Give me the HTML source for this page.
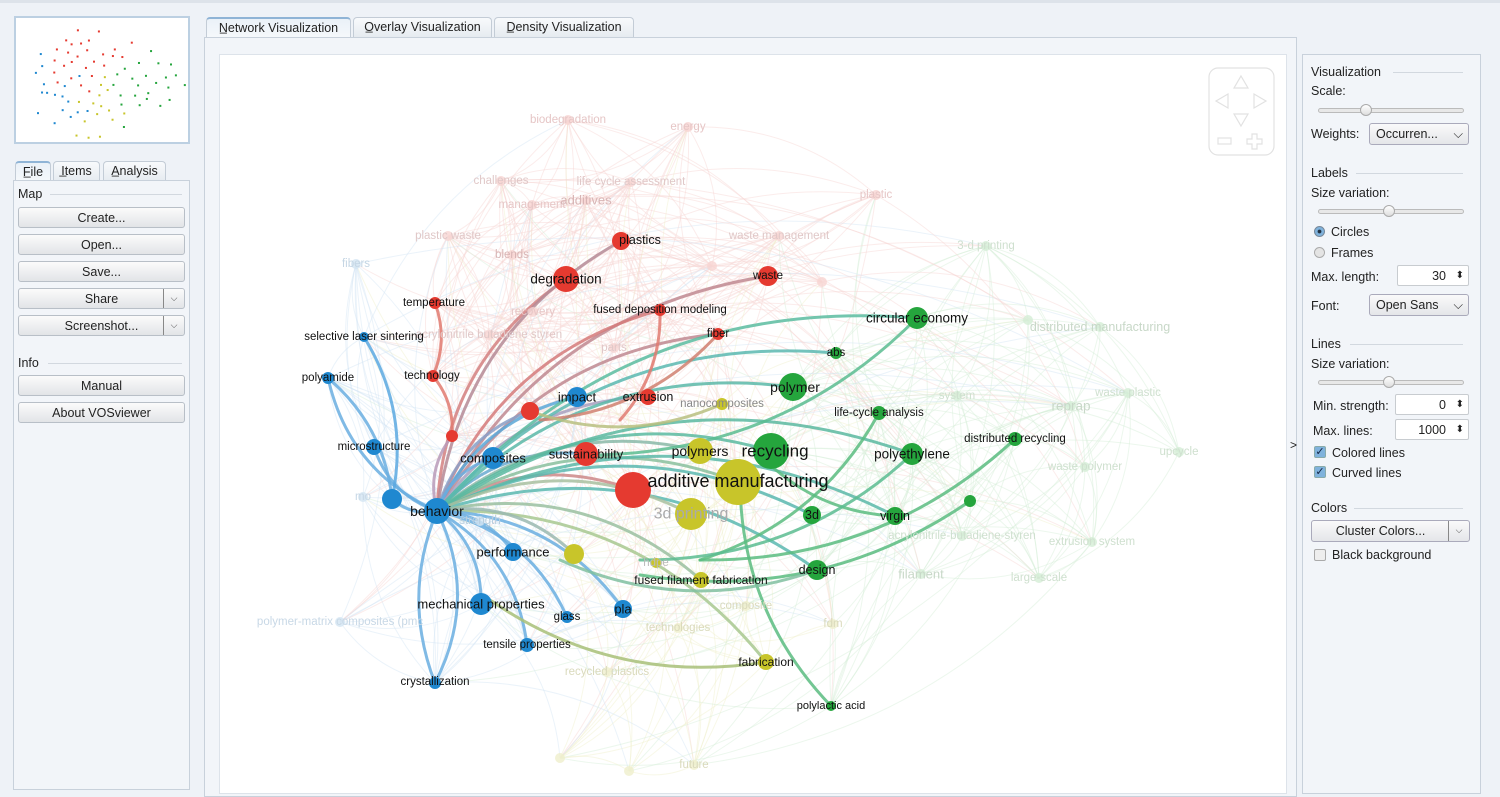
<!DOCTYPE html>
<html><head><meta charset="utf-8">
<style>
*{box-sizing:border-box;margin:0;padding:0}
body{width:1500px;height:786px;overflow:hidden;background:#eef2f7;font-family:"Liberation Sans",sans-serif;font-size:12px;color:#222;position:relative}
.abs{position:absolute}
.topline{left:0;top:0;width:1500px;height:3px;background:#dde3ea}
.mini{left:14px;top:16px;width:176px;height:128px;background:#fff;border:2px solid #bcd0e2}
.tab{position:absolute;height:20px;border:1px solid #c3ccd6;border-bottom:none;border-radius:4px 4px 0 0;background:linear-gradient(#f8fafc,#e6ebf0);text-align:center;line-height:19px;font-size:12.5px}
.tab.sel{background:linear-gradient(#eaf1f8,#f5f8fb);border-top:2px solid #8fb4d6}
.panel{border:1px solid #c8d1db;background:#f2f5f9}
.btn{position:absolute;left:18px;width:167px;height:21px;border:1px solid #b8bfc7;border-radius:3px;background:linear-gradient(#fbfbfb,#e2e4e7);text-align:center;line-height:20px;font-size:12.5px}
.dd{position:absolute;right:0;top:0;width:21px;height:19px;border-left:1px solid #888;font-size:9px;line-height:19px;text-align:center;color:#444}
.lbl{position:absolute;font-size:12.5px}
.sep{position:absolute;height:1px;background:#d2d8df}
.slider{position:absolute;left:1318px;width:146px;height:5px;border:1px solid #bbb;border-radius:3px;background:#e8e8e8}
.knob{position:absolute;top:-5px;width:12px;height:12px;border-radius:50%;border:1px solid #aaa;background:linear-gradient(#fff,#ddd)}
.field{position:absolute;height:21px;border:1px solid #c8ccd0;background:#fff;text-align:right;padding-right:22px;line-height:20px;font-size:12.5px;border-radius:2px}
.sel2{position:absolute;height:22px;border:1px solid #aab;border-radius:3px;background:linear-gradient(#fafafa,#e4e6e9);line-height:21px;padding-left:6px;font-size:12.5px}
.chk{position:absolute;width:12px;height:12px;border:1px solid #8aa;border-radius:2px;background:#7fb2dc;color:#124;font-size:11px;line-height:10px;text-align:center}
</style></head><body>
<div class="abs topline"></div>
<div class="abs mini"><svg width="172" height="124" id="minisvg"></svg></div>

<div class="tab sel" style="left:15px;top:161px;width:36px">F̲ile</div>
<div class="tab" style="left:53px;top:161px;width:47px">I̲tems</div>
<div class="tab" style="left:103px;top:161px;width:63px">A̲nalysis</div>
<div class="abs panel" style="left:13px;top:180px;width:177px;height:610px"></div>
<div class="lbl" style="left:18px;top:187px">Map</div><div class="sep" style="left:50px;top:194px;width:132px"></div>
<div class="btn" style="top:207px">Create...</div>
<div class="btn" style="top:234px">Open...</div>
<div class="btn" style="top:261px">Save...</div>
<div class="btn" style="top:288px">Share<div class="dd">⌵</div></div>
<div class="btn" style="top:315px">Screenshot...<div class="dd">⌵</div></div>
<div class="lbl" style="left:18px;top:356px">Info</div><div class="sep" style="left:48px;top:363px;width:134px"></div>
<div class="btn" style="top:375px">Manual</div>
<div class="btn" style="top:402px">About VOSviewer</div>

<div class="tab sel" style="left:206px;top:17px;width:145px">N̲etwork Visualization</div>
<div class="tab" style="left:353px;top:17px;width:139px">O̲verlay Visualization</div>
<div class="tab" style="left:494px;top:17px;width:140px">D̲ensity Visualization</div>
<div class="abs panel" style="left:204px;top:37px;width:1093px;height:760px"></div>
<div class="abs" style="left:219px;top:54px;width:1068px;height:740px;background:#fff;border:1px solid #dde3ea"></div>

<svg class="abs" style="left:0;top:0" width="1500" height="786">
<g id="faint"></g>
<g id="strong" fill="none" stroke-linecap="round"></g>
<g id="nodes"></g>
<g font-family="Liberation Sans, sans-serif" text-anchor="middle" dominant-baseline="central" fill="#ccc" font-size="11.5">
<text x="568" y="120" fill="#e6c6c6">biodegradation</text>
<text x="688" y="127" fill="#e6c6c6">energy</text>
<text x="501" y="181" fill="#e0c8c8">challenges</text>
<text x="631" y="182" fill="#e0c8c8">life cycle assessment</text>
<text x="532" y="205" fill="#e6c6c6">management</text>
<text x="586" y="200" fill="#d8b5b5" font-size="13">additives</text>
<text x="876" y="195" fill="#e6c6c6">plastic</text>
<text x="448" y="236" fill="#e0c8c8">plastic waste</text>
<text x="512" y="255" fill="#d8b5b5">blends</text>
<text x="779" y="236" fill="#e0c8c8">waste management</text>
<text x="356" y="264" fill="#c5d6e4">fibers</text>
<text x="533" y="312" fill="#e6c6c6">recovery</text>
<text x="489" y="335" fill="#e0c8c8">acrylonitrile butadiene styren</text>
<text x="614" y="348" fill="#e0c8c8">parts</text>
<text x="986" y="246" fill="#cfe0cf">3-d printing</text>
<text x="1100" y="327" fill="#c8d8c8" font-size="12.5">distributed manufacturing</text>
<text x="957" y="396" fill="#cfe0cf">system</text>
<text x="1071" y="406" fill="#c8d8c8" font-size="13.5">reprap</text>
<text x="1128" y="393" fill="#cfe0cf">waste plastic</text>
<text x="1085" y="467" fill="#cfe0cf">waste polymer</text>
<text x="1179" y="452" fill="#cfe0cf">upcycle</text>
<text x="962" y="536" fill="#cfe0cf">acrylonitrile-butadiene-styren</text>
<text x="1092" y="542" fill="#cfe0cf">extrusion system</text>
<text x="921" y="574" fill="#c8d8c8" font-size="13">filament</text>
<text x="1039" y="578" fill="#cfe0cf">large-scale</text>
<text x="746" y="606" fill="#dadabc">composite</text>
<text x="833" y="624" fill="#dadabc">fdm</text>
<text x="678" y="628" fill="#dadabc">technologies</text>
<text x="340" y="622" fill="#c8d8e6">polymer-matrix composites (pmc</text>
<text x="607" y="672" fill="#dadabc">recycled plastics</text>
<text x="694" y="765" fill="#dadabc">future</text>
<text x="480" y="521" fill="#b8cede">strength</text>
<text x="363" y="497" fill="#c8d8e6">mo</text>
<text x="656" y="563" fill="#bbb">hdpe</text>
<text x="722" y="404" fill="#888">nanocomposites</text>
<text x="691" y="514" fill="#aaa" font-size="16">3d printing</text>
</g>
<g font-family="Liberation Sans, sans-serif" text-anchor="middle" dominant-baseline="central" fill="#111" font-size="11.5">
<text x="566" y="279" font-size="13.5">degradation</text>
<text x="640" y="240" font-size="12.5">plastics</text>
<text x="768" y="276">waste</text>
<text x="434" y="303">temperature</text>
<text x="660" y="310">fused deposition modeling</text>
<text x="718" y="334">fiber</text>
<text x="432" y="376">technology</text>
<text x="648" y="397" font-size="12.5">extrusion</text>
<text x="586" y="454" font-size="13">sustainability</text>
<text x="738" y="481" font-size="18">additive manufacturing</text>
<text x="775" y="451" font-size="17">recycling</text>
<text x="700" y="451" font-size="14">polymers</text>
<text x="795" y="387" font-size="14">polymer</text>
<text x="917" y="318" font-size="13.5">circular economy</text>
<text x="836" y="353">abs</text>
<text x="879" y="413">life-cycle analysis</text>
<text x="912" y="454" font-size="13.5">polyethylene</text>
<text x="1015" y="439">distributed recycling</text>
<text x="812" y="515" font-size="12.5">3d</text>
<text x="895" y="516" font-size="12.5">virgin</text>
<text x="817" y="570" font-size="12.5">design</text>
<text x="831" y="706" font-size="11">polylactic acid</text>
<text x="766" y="662" font-size="12">fabrication</text>
<text x="701" y="580" font-size="12">fused filament fabrication</text>
<text x="577" y="397" font-size="13">impact</text>
<text x="493" y="458" font-size="13">composites</text>
<text x="437" y="511" font-size="14">behavior</text>
<text x="374" y="447">microstructure</text>
<text x="328" y="378">polyamide</text>
<text x="364" y="337">selective laser sintering</text>
<text x="513" y="552" font-size="13">performance</text>
<text x="481" y="604" font-size="13">mechanical properties</text>
<text x="567" y="617">glass</text>
<text x="623" y="609" font-size="13">pla</text>
<text x="527" y="645">tensile properties</text>
<text x="435" y="682">crystallization</text>
</g>
<g stroke="#e2e2e2" fill="none" stroke-width="1.2">
<rect x="1209" y="68" width="65" height="87" rx="9"/>
<path d="M1241 76l7 12h-14z M1216 101l12-7v14z M1266 101l-12-7v14z M1241 126l7-12h-14z"/>
<rect x="1218" y="138" width="13" height="6"/>
<path d="M1252 134h5v5h5v5h-5v5h-5v-5h-5v-5h5z"/>
</g>
</svg>

<div class="abs" style="left:1290px;top:438px;font-size:12px">&gt;</div>
<div class="abs panel" style="left:1302px;top:54px;width:179px;height:740px"></div>
<div class="lbl" style="left:1311px;top:65px">Visualization</div><div class="sep" style="left:1393px;top:72px;width:70px"></div>
<div class="lbl" style="left:1311px;top:84px">Scale:</div>
<div class="slider" style="top:108px"><div class="knob" style="left:41px"></div></div>
<div class="lbl" style="left:1311px;top:127px">Weights:</div>
<div class="sel2" style="left:1369px;top:123px;width:100px">Occurren...<span style="position:absolute;right:5px">⌵</span></div>
<div class="lbl" style="left:1311px;top:166px">Labels</div><div class="sep" style="left:1356px;top:173px;width:107px"></div>
<div class="lbl" style="left:1311px;top:186px">Size variation:</div>
<div class="slider" style="top:209px"><div class="knob" style="left:64px"></div></div>
<div class="abs" style="left:1314px;top:226px;width:11px;height:11px;border-radius:50%;border:1px solid #789;background:radial-gradient(#234 25%,#7fb2dc 35%)"></div>
<div class="lbl" style="left:1331px;top:225px">Circles</div>
<div class="abs" style="left:1314px;top:247px;width:11px;height:11px;border-radius:50%;border:1px solid #aaa;background:#e4e4e4"></div>
<div class="lbl" style="left:1331px;top:246px">Frames</div>
<div class="lbl" style="left:1311px;top:270px">Max. length:</div>
<div class="field" style="left:1397px;top:265px;width:72px">30<span style="position:absolute;right:4px;font-size:10px">⬍</span></div>
<div class="lbl" style="left:1311px;top:299px">Font:</div>
<div class="sel2" style="left:1369px;top:294px;width:100px">Open Sans<span style="position:absolute;right:5px">⌵</span></div>
<div class="lbl" style="left:1311px;top:337px">Lines</div><div class="sep" style="left:1350px;top:344px;width:113px"></div>
<div class="lbl" style="left:1311px;top:357px">Size variation:</div>
<div class="slider" style="top:380px"><div class="knob" style="left:64px"></div></div>
<div class="lbl" style="left:1313px;top:399px">Min. strength:</div>
<div class="field" style="left:1395px;top:394px;width:74px">0<span style="position:absolute;right:4px;font-size:10px">⬍</span></div>
<div class="lbl" style="left:1313px;top:424px">Max. lines:</div>
<div class="field" style="left:1395px;top:419px;width:74px">1000<span style="position:absolute;right:4px;font-size:10px">⬍</span></div>
<div class="chk" style="left:1314px;top:446px">✓</div><div class="lbl" style="left:1332px;top:446px">Colored lines</div>
<div class="chk" style="left:1314px;top:466px">✓</div><div class="lbl" style="left:1332px;top:466px">Curved lines</div>
<div class="lbl" style="left:1311px;top:501px">Colors</div><div class="sep" style="left:1354px;top:508px;width:109px"></div>
<div class="sel2" style="left:1311px;top:520px;width:159px;text-align:center;padding:0 20px 0 0">Cluster Colors...<div class="dd" style="height:20px">⌵</div></div>
<div class="abs" style="left:1314px;top:549px;width:12px;height:12px;border:1px solid #aaa;border-radius:2px;background:#eee"></div>
<div class="lbl" style="left:1332px;top:548px">Black background</div>

<script>
var NS="http://www.w3.org/2000/svg";
var C={r:"#e53a30",b:"#1f88d0",g:"#25a53d",y:"#c8c52a"};
var F={r:"#f7d4d2",b:"#d3e5f3",g:"#d5eed6",y:"#efefcc"};
var nodes=[
[566,279,13,"r"],[621,241,9,"r"],[768,276,10,"r"],[435,303,6,"r"],[660,310,6,"r"],[718,334,6,"r"],[433,376,6,"r"],[648,397,8,"r"],[530,411,9,"r"],[452,436,6,"r"],[586,454,12,"r"],[633,490,18,"r"],
[738,482,23,"y"],[700,451,13,"y"],[691,514,16,"y"],[766,662,8,"y"],[701,580,8,"y"],[656,563,5,"y"],[722,404,6,"y"],[574,554,10,"y"],
[771,451,18,"g"],[793,387,14,"g"],[917,318,11,"g"],[836,353,6,"g"],[879,413,7,"g"],[912,454,11,"g"],[1015,439,7,"g"],[970,501,6,"g"],[812,515,9,"g"],[895,516,9,"g"],[817,570,10,"g"],[831,706,5,"g"],
[577,397,10,"b"],[493,458,11,"b"],[437,511,13,"b"],[392,499,10,"b"],[374,447,8,"b"],[328,378,6,"b"],[364,337,5,"b"],[513,552,9,"b"],[481,604,11,"b"],[567,617,6,"b"],[623,609,9,"b"],[527,645,7,"b"],[435,683,6,"b"]];
var faint=[
[568,120,"r"],[688,127,"r"],[501,181,"r"],[631,182,"r"],[532,205,"r"],[586,200,"r"],[876,195,"r"],[448,236,"r"],[512,255,"r"],[779,236,"r"],[533,312,"r"],[489,335,"r"],[614,348,"r"],[712,266,"r"],[822,282,"r"],
[356,264,"b"],[340,622,"b"],[480,521,"b"],[363,497,"b"],
[986,246,"g"],[1028,320,"g"],[1100,327,"g"],[957,396,"g"],[1071,406,"g"],[1128,393,"g"],[1085,467,"g"],[1179,452,"g"],[962,536,"g"],[1092,542,"g"],[921,574,"g"],[1039,578,"g"],
[746,606,"y"],[833,624,"y"],[678,628,"y"],[607,672,"y"],[694,765,"y"],[560,758,"y"],[629,771,"y"]];
function el(t,a,p){var e=document.createElementNS(NS,t);for(var k in a)e.setAttribute(k,a[k]);p.appendChild(e);return e;}
var fg=document.getElementById("faint"),sg=document.getElementById("strong"),ng=document.getElementById("nodes");
var all=nodes.map(function(n){return [n[0],n[1],n[3]]}).concat(faint);
var seed=7;function rnd(){seed=(seed*16807)%2147483647;return seed/2147483647;}
for(var i=0;i<all.length;i++)for(var j=i+1;j<all.length;j++){
 var a=all[i],b=all[j],d=Math.hypot(a[0]-b[0],a[1]-b[1]);
 var p=a[2]==b[2]?0.5:0.1; if(d>420)p*=0.4;
 if(rnd()<p){var mx=(a[0]+b[0])/2+(b[1]-a[1])*0.2,my=(a[1]+b[1])/2-(b[0]-a[0])*0.2;
 el("path",{d:"M"+a[0]+" "+a[1]+"Q"+mx+" "+my+" "+b[0]+" "+b[1],stroke:F[a[2]],"stroke-width":1,fill:"none",opacity:0.45},fg);}
}
faint.forEach(function(f){el("circle",{cx:f[0],cy:f[1],r:5,fill:F[f[2]],opacity:0.8},ng);});
var B=[437,511];
var tg=[[566,279,"#d38080"],[621,241,"#b58a95"],[768,276,"#c08890"],[718,334,"#c08890"],[660,310,"#d57a7a"],[530,411,"#8aa0c8"],[577,397,"#5aa8d8"],[648,397,"#a8a0c0"],[586,454,"#6aaad0"],[633,490,"#cc8888"],[738,482,"#8abf9e"],[700,451,"#8ab8a8"],[771,451,"#5abaa0"],[793,387,"#5ab8a8"],[917,318,"#5abca0"],[836,353,"#5ab8b0"],[912,454,"#5ab8a0"],[812,515,"#5ab8b0"],[895,516,"#5ab8a8"],[817,570,"#5ab8b0"],[701,580,"#9ac0a0"],[766,662,"#a8c890"],[574,554,"#9ab8b0"],[691,514,"#a8c0a0"],
[493,458,"#6aaee0"],[374,447,"#6aaee0"],[392,499,"#6aaee0"],[513,552,"#6aaee0"],[481,604,"#6aaee0"],[567,617,"#6aaee0"],[623,609,"#6aaee0"],[527,645,"#6aaee0"],[435,683,"#6aaee0"],[328,378,"#6aaee0"],[452,436,"#b89ab8"]];
tg.forEach(function(t){var dx=t[0]-B[0],dy=t[1]-B[1];var mx=B[0]+dx/2+dy*0.25,my=B[1]+dy/2-dx*0.25;
 el("path",{d:"M"+B[0]+" "+B[1]+"Q"+mx+" "+my+" "+t[0]+" "+t[1],stroke:t[2],"stroke-width":3,opacity:0.85},sg);});
var ex=[[435,303,433,376,"#e07a70"],[364,337,392,499,"#5aa8e0"],[433,376,452,436,"#e07a70"],[660,310,620,420,"#e07a70"],[718,334,540,420,"#d08070"],
[917,318,600,455,"#5abc90"],[1015,439,700,560,"#5abc80"],[970,501,640,575,"#5abc80"],[831,706,740,480,"#5abc80"],[879,413,700,560,"#5abc80"],[895,516,760,455,"#5abc80"],[766,662,490,600,"#a8c078"],[817,570,560,560,"#80c0a0"],[912,454,640,560,"#5abc90"],[328,378,392,499,"#6aaee0"],[435,683,437,511,"#6aaee0"],[722,404,530,411,"#b8c080"]];
ex.forEach(function(t){var dx=t[2]-t[0],dy=t[3]-t[1];var mx=t[0]+dx/2+dy*0.2,my=t[1]+dy/2-dx*0.2;
 el("path",{d:"M"+t[0]+" "+t[1]+"Q"+mx+" "+my+" "+t[2]+" "+t[3],stroke:t[4],"stroke-width":3,opacity:0.85},sg);});
nodes.forEach(function(n){el("circle",{cx:n[0],cy:n[1],r:n[2],fill:C[n[3]]},ng);});
var ms=document.getElementById("minisvg");
nodes.concat(faint.map(function(f){return [f[0],f[1],0,f[2]]})).forEach(function(n){
 el("rect",{x:(n[0]-300)*0.175+14,y:(n[1]-100)*0.165+8,width:2,height:2,fill:C[n[3]]},ms);});
</script>
</body></html>
